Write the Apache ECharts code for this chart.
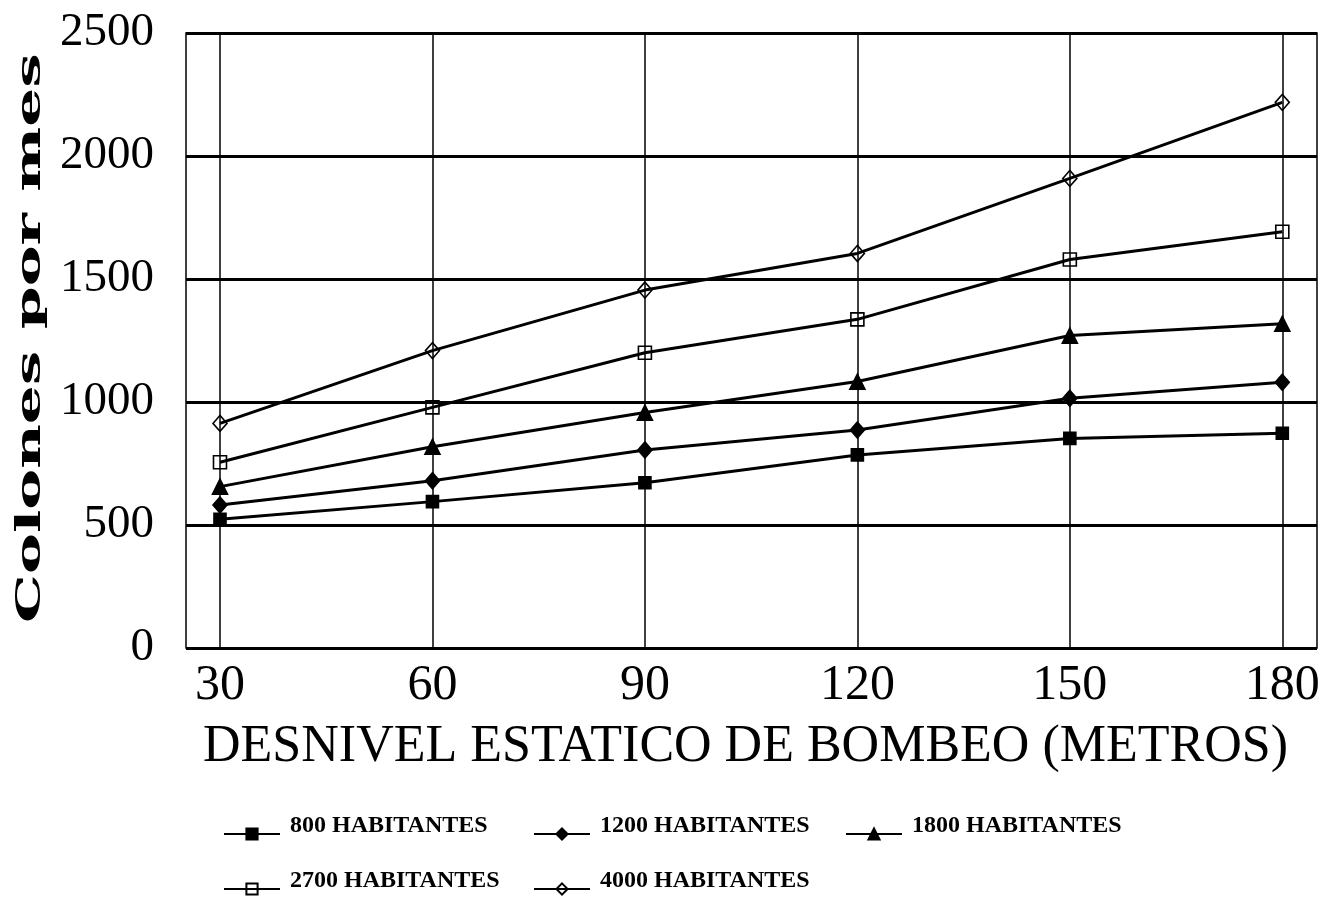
<!DOCTYPE html>
<html><head><meta charset="utf-8">
<script src="https://cdn.jsdelivr.net/npm/echarts@6/dist/echarts.min.js"></script>
<style>html,body{margin:0;padding:0;background:#fff}#c{width:1339px;height:900px}</style>
</head><body><div id="c"></div>
<script>
// ---- data ----
const xValues = [30, 60, 90, 120, 150, 180];
const xTicks = [30, 60, 90, 120, 150, 180];
const seriesNames = ['800 HABITANTES', '1200 HABITANTES', '1800 HABITANTES', '2700 HABITANTES', '4000 HABITANTES'];
const hab800  = [523, 595, 672, 785, 852, 873];
const hab1200 = [581, 680, 805, 886, 1015, 1080];
const hab1800 = [656, 818, 957, 1083, 1270, 1318];
const hab2700 = [755, 978, 1200, 1336, 1579, 1692];
const hab4000 = [913, 1209, 1455, 1604, 1909, 2218];
const yTitle = 'Colones por mes';
const xTitle = 'DESNIVEL ESTATICO DE BOMBEO (METROS)';

// ---- build ----
const pairs = v => xValues.map((x, i) => [x, v[i]]);
const serif = '"Liberation Serif", "Times New Roman", serif';
const lineStyle = { color: '#000', width: 3 };

const seriesDefs = [
  { data: hab800,  symbol: 'rect',     size: 12,       fill: '#000' },
  { data: hab1200, symbol: 'diamond',  size: [14, 16], fill: '#000' },
  { data: hab1800, symbol: 'triangle', size: [15, 15], fill: '#000' },
  { data: hab2700, symbol: 'rect',     size: 13,       fill: 'rgba(0,0,0,0)' },
  { data: hab4000, symbol: 'diamond',  size: [14, 16], fill: 'rgba(0,0,0,0)' }
];

const series = seriesDefs.map((d, i) => ({
  name: seriesNames[i],
  type: 'line',
  data: pairs(d.data),
  symbol: d.symbol,
  symbolSize: d.size,
  showAllSymbol: true,
  lineStyle: lineStyle,
  itemStyle: { color: d.fill, borderColor: '#000', borderWidth: 1.6 },
  emphasis: { disabled: true },
  z: 3
}));

const legendPos = [[223, 814], [533, 814], [845, 814], [223, 869], [533, 869]];
const legends = seriesNames.map((n, i) => ({
  data: [n],
  left: legendPos[i][0],
  top: legendPos[i][1],
  padding: 0,
  itemWidth: 56,
  itemHeight: 14,
  selectedMode: false,
  formatter: name => '{t|' + name + '}',
  textStyle: {
    color: '#000',
    rich: { t: { fontFamily: serif, fontWeight: 'bold', fontSize: 24, color: '#000', padding: [0, 0, 16, 5] } }
  }
}));

const option = {
  animation: false,
  backgroundColor: '#fff',
  grid: { left: 186, right: 22, top: 33, bottom: 252, show: true, borderColor: '#000', borderWidth: 1.5, backgroundColor: 'transparent', containLabel: false },
  legend: legends,
  xAxis: {
    type: 'value', min: 25.2, max: 184.9,
    name: xTitle, nameLocation: 'middle', nameGap: 73,
    nameTextStyle: { fontFamily: serif, fontSize: 52, color: '#000', padding: [0, 12, 0, 0] },
    axisLine: { show: false },
    axisTick: { show: false, customValues: xTicks },
    axisLabel: { customValues: xTicks, fontFamily: serif, fontSize: 50, color: '#000', margin: 13 },
    splitLine: { show: true, lineStyle: { color: '#000', width: 1.5 } }
  },
  yAxis: {
    type: 'value', min: 0, max: 2500, interval: 500,
    axisLine: { show: false },
    axisTick: { show: false },
    axisLabel: { fontFamily: serif, fontSize: 47, color: '#000', margin: 32, formatter: v => String(v) },
    splitLine: { show: true, lineStyle: { color: '#000', width: 3 } }
  },
  graphic: [{
    type: 'text',
    x: 31, y: 338,
    rotation: Math.PI / 2,
    scaleX: 1.86,
    style: { text: yTitle, font: 'bold 33px "DejaVu Serif", serif', fill: '#000', align: 'center', verticalAlign: 'middle' }
  }],
  series: series
};

const chart = echarts.init(document.getElementById('c'), null, { renderer: 'canvas' });
chart.setOption(option);
</script>
</body></html>
